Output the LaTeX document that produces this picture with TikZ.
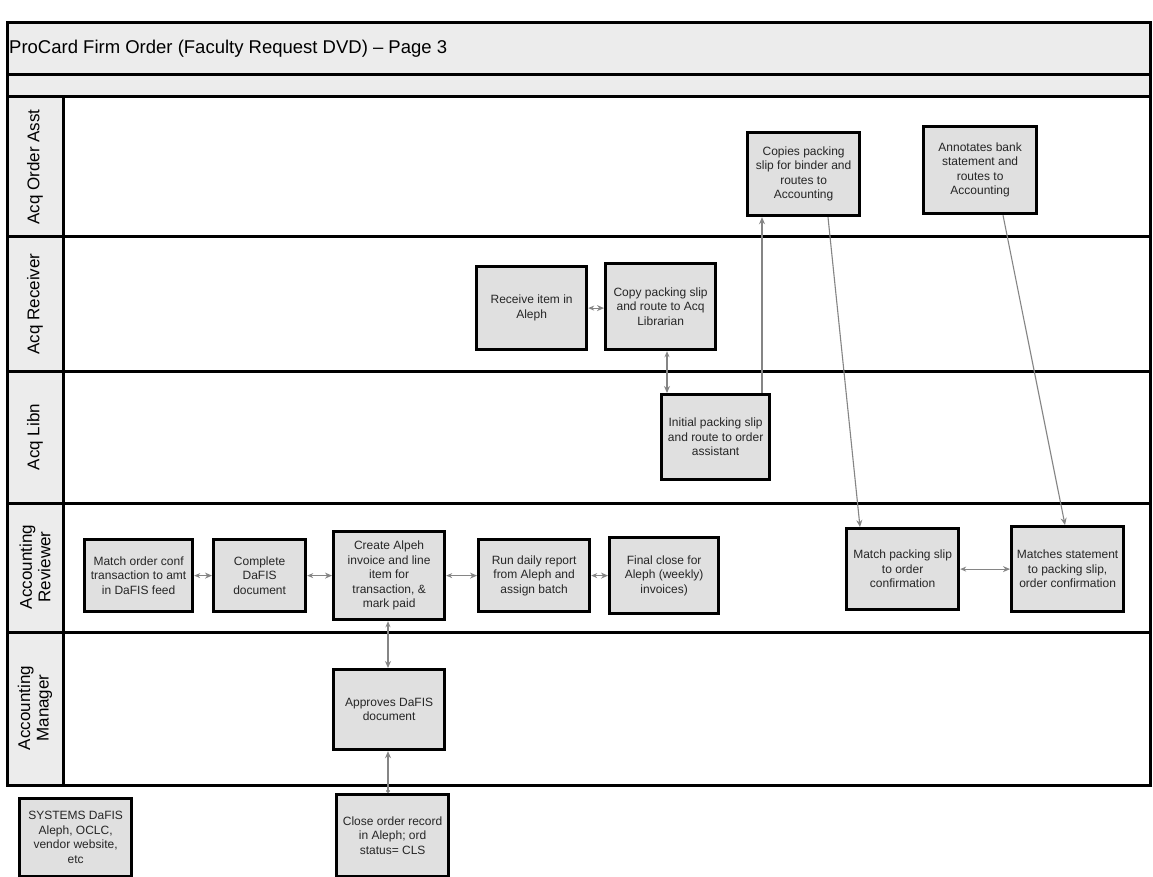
\documentclass[tikz,border=0pt]{standalone}
\usepackage{fontspec}
\setmainfont{Liberation Sans}
\usetikzlibrary{arrows.meta}
\definecolor{boxfill}{HTML}{E0E0E0}
\definecolor{bandfill}{HTML}{ECECEC}
\definecolor{txt}{HTML}{262626}
\definecolor{conn}{HTML}{858585}
\begin{document}
\begin{tikzpicture}[x=1pt,y=-1pt,
  procbox/.style={draw=black, line width=3.2pt, fill=boxfill, text=txt,
    font=\fontsize{12}{14.5}\selectfont, align=center, inner sep=1pt, anchor=north west},
  lanelabel/.style={rotate=90, font=\fontsize{17}{18.5}\selectfont, align=center, text=black},
  frameline/.style={draw=black, line width=3pt},
  conn/.style={draw=conn, line width=1.1pt},
  twoway/.style={conn, {Stealth[length=6pt,width=5pt]}-{Stealth[length=7pt,width=6pt]}},
  oneway/.style={conn, -{Stealth[length=7pt,width=6pt]}},
  dotway/.style={conn, {Circle[length=4pt]}-{Stealth[length=7pt,width=6pt]}}]
\useasboundingbox (0,0) rectangle (1153,877);
\fill[white] (0,0) rectangle (1153,877);
% title bands
\filldraw[frameline, fill=bandfill] (7,23) rectangle (1150,75);
\filldraw[frameline, fill=bandfill] (7,75) rectangle (1150,97);
\node[anchor=west, font=\fontsize{18.5}{22}\selectfont, inner sep=0pt] (title) at (9,49) {ProCard Firm Order (Faculty Request DVD) – Page 3};
% lanes
\draw[frameline] (7,97) rectangle (1150,237);
\draw[frameline] (7,237) rectangle (1150,371);
\draw[frameline] (7,371) rectangle (1150,503);
\draw[frameline] (7,503) rectangle (1150,632);
\draw[frameline] (7,632) rectangle (1150,785);
\filldraw[frameline, fill=bandfill] (7,97) rectangle (63,237);
\filldraw[frameline, fill=bandfill] (7,237) rectangle (63,371);
\filldraw[frameline, fill=bandfill] (7,371) rectangle (63,503);
\filldraw[frameline, fill=bandfill] (7,503) rectangle (63,632);
\filldraw[frameline, fill=bandfill] (7,632) rectangle (63,785);
\node[lanelabel] (l1) at (35,167) {Acq Order Asst};
\node[lanelabel] (l2) at (35,304) {Acq Receiver};
\node[lanelabel] (l3) at (35,437) {Acq Libn};
\node[lanelabel] (l4) at (35,567) {Accounting\\Reviewer};
\node[lanelabel] (l5) at (35,708) {Accounting\\Manager};
% process boxes
\node[procbox, minimum width=112pt, minimum height=83pt] (copies) at (746,131) {Copies packing\\slip for binder and\\routes to\\Accounting};
\node[procbox, minimum width=113pt, minimum height=87pt] (annot) at (922,125) {Annotates bank\\statement and\\routes to\\Accounting};
\node[procbox, minimum width=110pt, minimum height=83pt] (receive) at (475,265) {Receive item in\\Aleph};
\node[procbox, minimum width=110pt, minimum height=86pt] (copy) at (604,262) {Copy packing slip\\and route to Acq\\Librarian};
\node[procbox, minimum width=108pt, minimum height=85pt] (initial) at (660,393) {Initial packing slip\\and route to order\\assistant};
\node[procbox, minimum width=108pt, minimum height=72pt] (match) at (83,538) {Match order conf\\transaction to amt\\in DaFIS feed};
\node[procbox, minimum width=92pt, minimum height=72pt] (complete) at (212,538) {Complete\\DaFIS\\document};
\node[procbox, minimum width=111pt, minimum height=88pt] (create) at (332,530) {Create Alpeh\\invoice and line\\item for\\transaction, \&\\mark paid};
\node[procbox, minimum width=111pt, minimum height=72pt] (run) at (477,538) {Run daily report\\from Aleph and\\assign batch};
\node[procbox, minimum width=109pt, minimum height=76pt] (final) at (608,536) {Final close for\\Aleph (weekly)\\invoices)};
\node[procbox, minimum width=112pt, minimum height=81pt] (matchpack) at (845,527) {Match packing slip\\to order\\confirmation};
\node[procbox, minimum width=112pt, minimum height=85pt] (matchstmt) at (1010,525) {Matches statement\\to packing slip,\\order confirmation};
\node[procbox, minimum width=111pt, minimum height=80pt] (approves) at (332,668) {Approves DaFIS\\document};
\node[procbox, minimum width=112pt, minimum height=82pt] (close) at (335,793) {Close order record\\in Aleph; ord\\status= CLS};
\node[procbox, minimum width=112pt, minimum height=78pt] (systems) at (18,797) {SYSTEMS DaFIS\\Aleph, OCLC,\\vendor website,\\etc};
% helper x positions
\coordinate (x667) at (667,0);
\coordinate (x762) at (762,0);
\coordinate (x828) at (828,0);
\coordinate (x860) at (860,0);
\coordinate (x1003) at (1003,0);
\coordinate (x1065) at (1065,0);
\coordinate (x388) at (388,0);
% connectors
\draw[twoway] (match.east) -- (complete.west);
\draw[twoway] (complete.east) -- (complete.east -| create.west);
\draw[twoway] (create.east) -- (create.east -| run.west);
\draw[twoway] (run.east) -- (run.east -| final.west);
\draw[twoway] (matchpack.east) -- (matchpack.east -| matchstmt.west);
\draw[twoway] (receive.east) -- (receive.east -| copy.west);
\draw[twoway] (copy.south -| x667) -- (initial.north -| x667);
\draw[oneway] (initial.north -| x762) -- (copies.south -| x762);
\draw[oneway] (copies.south -| x828) -- (matchpack.north -| x860);
\draw[oneway] (annot.south -| x1003) -- (matchstmt.north -| x1065);
\draw[twoway] (create.south -| x388) -- (approves.north -| x388);
\draw[dotway] (close.north -| x388) -- (approves.south -| x388);
\end{tikzpicture}
\end{document}
